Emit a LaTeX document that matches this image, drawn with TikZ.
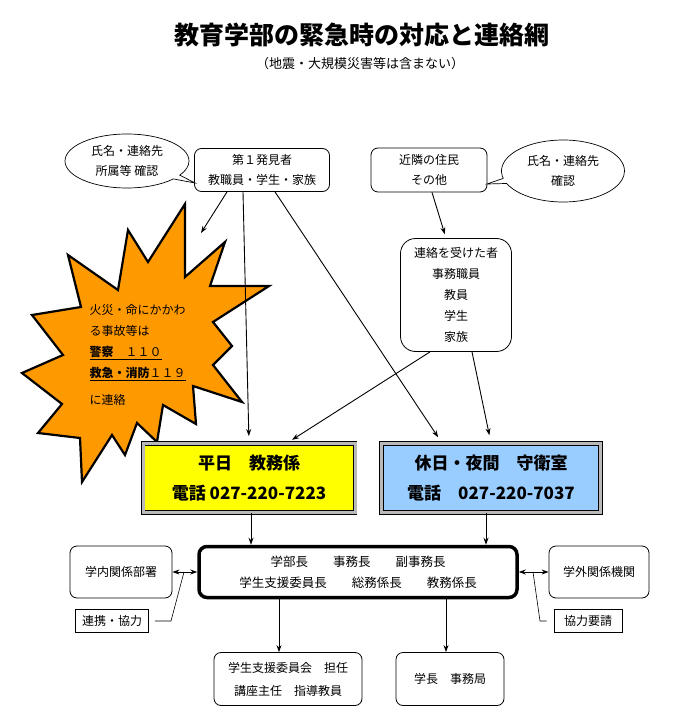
\documentclass[tikz,border=0pt]{standalone}
\usepackage{fontspec}
\setmainfont{Noto Sans CJK JP}
\usepackage{tikz}
\usetikzlibrary{calc}
\usetikzlibrary{arrows,arrows.meta,shapes,shapes.callouts}
\tikzset{>={Stealth[length=7pt,width=5pt]}}
\definecolor{burstorange}{RGB}{255,153,0}
\definecolor{dayyellow}{RGB}{255,255,0}
\definecolor{nightblue}{RGB}{153,204,255}
\tikzset{
  txt/.style={font=\fontsize{12}{20}\selectfont},
  roundbox/.style={txt, draw, line width=.8pt, rounded corners=7pt, fill=white, align=center, inner sep=2pt},
  talk/.style={txt, draw, line width=.7pt, fill=white, align=center, ellipse callout, inner sep=0pt,
    callout pointer arc=10},
  telbox/.style={draw=black, line width=.9pt, double=gray!55, double distance=3pt, align=center,
    font=\bfseries\fontsize{17}{30}\selectfont, minimum width=212pt, minimum height=69pt},
  tag/.style={txt, draw, line width=.7pt, fill=white, inner sep=3pt},
  burst/.style={fill=burstorange, draw=black, line width=2.2pt, line join=miter},
  arr/.style={->, line width=.9pt},
  lead/.style={line width=.6pt}
}

\begin{document}
\begin{tikzpicture}[x=1pt, y=-1pt]
  \path[use as bounding box, fill=white] (0,0) rectangle (672,722);

  \node[font=\bfseries\fontsize{25}{30}\selectfont] (title) at (362,35) {教育学部の緊急時の対応と連絡網};
  \node[font=\fontsize{13}{16}\selectfont] (subtitle) at (360,64) {（地震・大規模災害等は含まない）};

  % finders
  \node[roundbox, minimum width=135pt, minimum height=43pt] (first) at (262,170) {第１発見者\\教職員・学生・家族};
  \node[roundbox, minimum width=116pt, minimum height=44pt] (neigh) at (429,170) {近隣の住民\\その他};
  \coordinate (tipL) at (195,183);
  \coordinate (tipR) at (487,184);
  \node[talk, minimum width=124pt, minimum height=54pt, callout absolute pointer={(tipL)}] (checkL) at (127,161) {氏名・連絡先\\所属等 確認};
  \node[talk, minimum width=123pt, minimum height=62pt, callout absolute pointer={(tipR)}] (checkR) at (563,171) {氏名・連絡先\\確認};
  \node[roundbox, rounded corners=15pt, minimum width=111pt, minimum height=113pt, font=\fontsize{12}{21}\selectfont] (recv) at (456,295)
    {連絡を受けた者\\事務職員\\教員\\学生\\家族};

  % fire / accident
  \draw[burst] (185,204) -- (185,277) -- (225,242) -- (210,286) -- (269,286) -- (213,322) -- (232,346)
    -- (213,365) -- (242,402) -- (193,386) -- (196,424) -- (163,405) -- (157,442) -- (137,423)
    -- (125,455) -- (112,435) -- (82,482) -- (80,438) -- (38,433) -- (62,404) -- (22,373)
    -- (63,355) -- (32,315) -- (81,307) -- (68,255) -- (118,290) -- (128,230) -- (148,262) -- cycle;
  \node[txt, anchor=west, align=left, font=\fontsize{12}{21}\selectfont] (alarm) at (86,355)
    {火災・命にかかわ\\る事故等は\\\underline{\textbf{警察}　１１０}\\\underline{\textbf{救急・消防}１１９}\\[6pt]に連絡};

  % contact desks
  \node[telbox, fill=dayyellow] (weekday) at (249,478) {平日　教務係\\電話 027-220-7223};
  \node[telbox, fill=nightblue, minimum width=219pt] (holiday) at (491,478) {休日・夜間　守衛室\\電話　027-220-7037};

  \coordinate (burstpt) at (201,233);
  \draw[arr] ([xshift=-35]first.south) -- (burstpt);
  \draw[arr, shorten >=7pt] ([xshift=-19]first.south) -- (weekday.north);
  \draw[arr, shorten >=7pt] ([xshift=13]first.south) -- ([xshift=-49]holiday.north);
  \draw[arr, shorten >=4pt] ([xshift=3]neigh.south) -- ([xshift=-10]recv.north);
  \draw[arr, shorten >=6pt] ([xshift=-26]recv.south) -- ([xshift=38]weekday.north);
  \draw[arr, shorten >=8pt] ([xshift=16]recv.south) -- (holiday.north);

  % staff
  \node[roundbox, line width=3.5pt, rounded corners=8pt, minimum width=318pt, minimum height=51pt,
    font=\fontsize{12.5}{21}\selectfont] (staff) at (358,572)
    {学部長　　事務長　　副事務長\\学生支援委員長　　総務係長　　教務係長};
  \node[roundbox, minimum width=102pt, minimum height=52pt] (inside) at (121,572) {学内関係部署};
  \node[roundbox, minimum width=100pt, minimum height=52pt] (outside) at (599,572) {学外関係機関};
  \node[tag, minimum width=73pt, minimum height=23pt] (coop) at (112,621) {連携・協力};
  \node[tag, minimum width=68pt, minimum height=23pt] (req) at (588,621) {協力要請};
  \node[roundbox, minimum width=148pt, minimum height=53pt, font=\fontsize{12}{23}\selectfont] (support) at (288,679)
    {学生支援委員会　担任\\講座主任　指導教員};
  \node[roundbox, minimum width=108pt, minimum height=53pt] (office) at (450,679) {学長　事務局};

  \coordinate (a1) at ([xshift=2]weekday.south);
  \coordinate (a2) at ([xshift=-5]holiday.south);
  \coordinate (b1) at ([xshift=-9]support.north);
  \coordinate (b2) at ([xshift=-4]office.north);
  \draw[arr] (a1) -- (a1 |- staff.north);
  \draw[arr] (a2) -- (a2 |- staff.north);
  \draw[arr] (b1 |- staff.south) -- (b1);
  \draw[arr] (b2 |- staff.south) -- (b2);
  \draw[<->, line width=.9pt] (inside.east) -- (staff.west);
  \draw[<->, line width=.9pt] (staff.east) -- (outside.west);

  \draw[lead] ([xshift=6]coop.east) -- (171,621) -- (184,572);
  \draw[lead] ([xshift=-7]req.west) -- (540,621) -- (533,572);
\end{tikzpicture}
\end{document}
